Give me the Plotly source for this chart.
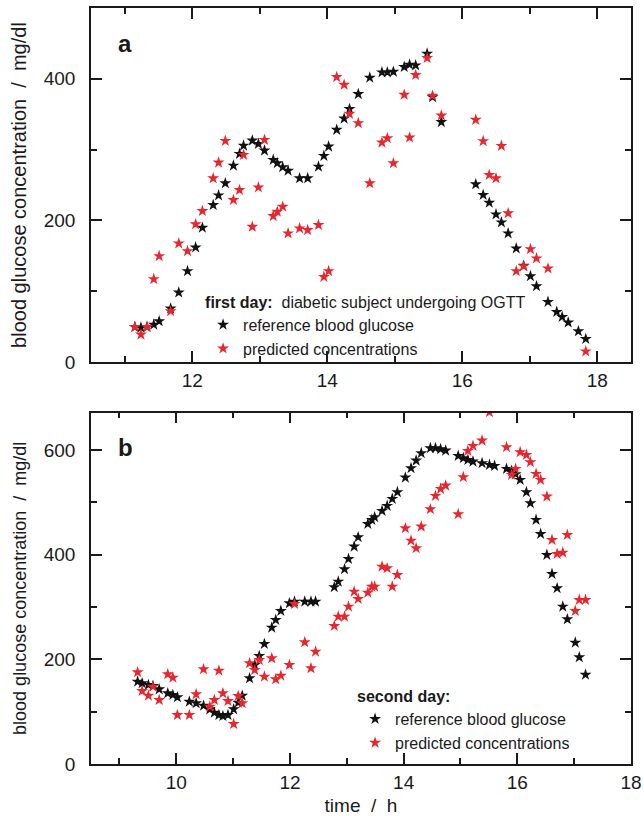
import plotly.graph_objects as go

# ---------------- data ----------------
# first day: diabetic subject undergoing OGTT (time in h, glucose in mg/dl)
day1_time = [11.15, 11.24, 11.33, 11.43, 11.51, 11.68, 11.80, 11.93, 12.05, 12.15,
             12.31, 12.39, 12.49, 12.61, 12.70, 12.76, 12.89, 12.98, 13.07, 13.20,
             13.26, 13.34, 13.42, 13.59, 13.71, 13.87, 13.95, 14.02, 14.14, 14.25,
             14.33, 14.46, 14.63, 14.81, 14.89, 14.98, 15.14, 15.22, 15.31, 15.48,
             15.56, 15.69, 16.20, 16.31, 16.40, 16.50, 16.58, 16.68, 16.80, 16.91,
             17.01, 17.10, 17.27, 17.40, 17.48, 17.57, 17.72, 17.83]
day1_reference = [49.5, 48.7, 49.5, 52.9, 57.6, 75.6, 98.2, 128.4, 161.9, 189.7,
                  221.8, 235.4, 252.5, 277.4, 294.0, 305.7, 312.8, 308.1, 298.7, 285.5,
                  280.8, 275.2, 270.3, 259.6, 259.6, 276.0, 291.2, 304.3, 328.0, 343.9,
                  357.3, 378.5, 401.6, 409.1, 409.1, 410.0, 416.7, 420.0, 419.0, 435.5,
                  374.2, 338.9, 251.1, 236.0, 225.1, 208.6, 197.3, 181.7, 160.5, 135.9,
                  121.3, 107.1, 84.9, 70.8, 63.7, 55.8, 43.5, 32.6]
day1_predicted = [49.5, 38.8, 49.5, 117.1, 149.6, 71.8, 167.6, 156.7, 194.5, 213.3,
                  259.6, 281.7, 312.4, 228.9, 243.0, 292.6, 191.1, 246.6, 313.8, 206.2,
                  212.3, 219.4, 181.7, 188.8, 186.4, 193.5, 120.3, 128.4, 402.5, 391.6,
                  350.6, 337.4, 252.5, 310.0, 316.2, 280.8, 377.5, 317.1, 405.4, 429.4,
                  376.1, 348.2, 342.1, 312.0, 264.3, 259.6, 305.3, 210.1, 128.4, 135.5,
                  159.5, 146.4, 132.2, None, None, None, None, 15.1]

# second day
day2_time = [9.32, 9.40, 9.51, 9.59, 9.70, 9.85, 9.94, 10.02, 10.23, 10.35,
             10.48, 10.59, 10.67, 10.75, 10.82, 10.91, 11.01, 11.09, 11.16, 11.29,
             11.38, 11.46, 11.55, 11.68, 11.75, 11.84, 11.99, 12.08, 12.26, 12.37,
             12.45, 12.78, 12.85, 12.96, 13.03, 13.13, 13.20, 13.37, 13.44, 13.49,
             13.62, 13.71, 13.80, 13.89, 14.03, 14.13, 14.22, 14.31, 14.47, 14.56,
             14.65, 14.74, 14.96, 15.05, 15.13, 15.22, 15.38, 15.51, 15.60, 15.81,
             15.90, 15.97, 16.05, 16.16, 16.23, 16.33, 16.41, 16.52, 16.61, 16.70,
             16.80, 16.88, 17.02, 17.09, 17.20]
day2_reference = [157.3, 154.2, 151.0, 149.1, 142.7, 135.1, 131.9, 127.5, 119.1, 116.0,
                  111.4, 104.5, 98.0, 93.6, 91.7, 93.6, 104.5, 117.1, 130.5, 163.8,
                  189.2, 206.4, 229.3, 260.5, 275.2, 292.4, 307.1, 310.1, 310.1, 310.1,
                  310.1, 337.7, 348.4, 372.1, 391.7, 415.3, 433.2, 458.6, 466.3, 471.4,
                  483.5, 493.0, 506.4, 519.2, 547.1, 565.1, 579.6, 593.7, 603.3, 603.3,
                  601.4, 598.7, 588.6, 584.2, 580.9, 577.7, 574.6, 571.4, 569.5, 563.7,
                  559.9, 553.6, 542.7, 519.2, 498.2, 466.3, 439.5, 399.4, 363.1, 335.8,
                  300.6, 276.5, 231.8, 203.9, 170.6]
day2_predicted = [175.2, 139.5, 130.5, 147.7, 122.3, 171.4, 164.9, 93.6, 93.6, 133.2,
                  181.0, 109.5, 122.3, 178.3, 135.1, 120.4, 76.4, 129.9, 116.0, 192.4,
                  179.6, 198.7, 166.8, 202.0, 161.9, 168.7, 189.2, 305.7, 232.6, 182.9,
                  214.6, 263.7, 281.5, 281.5, 300.6, 329.3, 315.3, 327.3, 338.8, 338.8,
                  377.0, 374.0, 338.8, 361.2, 450.4, 426.7, 412.2, 453.5, 486.7, 512.1,
                  525.5, 531.8, 477.2, 547.9, 598.1, 607.7, 617.8, 672.0, None, 605.2,
                  552.3, 563.7, 595.6, 590.5, 576.5, 554.2, 542.7, 510.8, 428.0, 401.3,
                  403.8, 437.6, 292.4, 313.4, 313.4]

series_names = ["reference blood glucose", "predicted concentrations"]
legend_titles = ["<b>first day:</b>\u00a0\u00a0diabetic subject undergoing OGTT",
                 "<b>second day:</b>"]
panel_letters = ["a", "b"]
y_title = "blood glucose concentration\u00a0\u00a0/\u00a0\u00a0mg/dl"
x_title = "time\u00a0\u00a0/\u00a0\u00a0h"

# ---------------- style ----------------
FONT = "Liberation Sans, Arial, sans-serif"
INK = "#1a1a1a"
BLACK = "#111111"
RED = "#e8262d"
STAR = 9

fig = go.Figure()

def add_pair(t, ref, pred, xa, ya, leg):
    fig.add_trace(go.Scatter(x=t, y=ref, mode="markers", name=series_names[0],
                             xaxis=xa, yaxis=ya, legend=leg,
                             marker=dict(symbol="star", size=STAR, color=BLACK,
                                         line=dict(width=0))))
    fig.add_trace(go.Scatter(x=t, y=pred, mode="markers", name=series_names[1],
                             xaxis=xa, yaxis=ya, legend=leg,
                             marker=dict(symbol="star", size=STAR, color=RED,
                                         line=dict(width=0))))

add_pair(day1_time, day1_reference, day1_predicted, "x", "y", "legend")
add_pair(day2_time, day2_reference, day2_predicted, "x2", "y2", "legend2")

def axis(**kw):
    base = dict(showline=True, linecolor=INK, linewidth=1.6, mirror="allticks",
                ticks="inside", ticklen=11, tickwidth=1.6, tickcolor=INK,
                showgrid=False, zeroline=False, automargin=False,
                tickfont=dict(family=FONT, size=19, color=INK),
                minor=dict(ticks="inside", ticklen=6, tickwidth=1.6,
                           tickcolor=INK, showgrid=False))
    base.update(kw)
    return base

legend_common = dict(xanchor="left", yanchor="top", bgcolor="rgba(0,0,0,0)",
                     font=dict(family=FONT, size=16, color=INK),
                     tracegroupgap=0, itemwidth=30)

fig.update_layout(
    template="none",
    width=644, height=816,
    margin=dict(l=91, r=13, t=8, b=52),
    paper_bgcolor="white", plot_bgcolor="white",
    showlegend=True,
    xaxis=axis(domain=[0, 1], anchor="y", range=[10.5, 18.5], dtick=2, tick0=0,
               minor_dtick=1, minor_tick0=0),
    yaxis=axis(domain=[0.5317, 1], anchor="x", range=[0, 500], dtick=200, tick0=0,
               minor_dtick=100, minor_tick0=0, ticklabelstandoff=10,
               title=dict(text=y_title, font=dict(family=FONT, size=20, color=INK),
                          standoff=12)),
    xaxis2=axis(domain=[0, 1], anchor="y2", range=[8.5, 18], dtick=2, tick0=0,
                minor_dtick=1, minor_tick0=0,
                title=dict(text=x_title, font=dict(family=FONT, size=19, color=INK),
                           standoff=17)),
    yaxis2=axis(domain=[0, 0.4647], anchor="x2", range=[0, 671], dtick=200, tick0=0,
                minor_dtick=100, minor_tick0=0, ticklabelstandoff=10,
                title=dict(text=y_title, font=dict(family=FONT, size=18, color=INK),
                           standoff=12)),
    legend=dict(x=0.2075, y=0.631, title=dict(text=legend_titles[0],
                font=dict(family=FONT, size=16, color=INK)), **legend_common),
    legend2=dict(x=0.489, y=0.1095, title=dict(text=legend_titles[1],
                 font=dict(family=FONT, size=16, color=INK)), **legend_common),
)

for letter, xr, yr in [(panel_letters[0], "x domain", "y domain"),
                       (panel_letters[1], "x2 domain", "y2 domain")]:
    fig.add_annotation(text=f"<b>{letter}</b>", xref=xr, yref=yr,
                       x=0.046, y=0.90, xanchor="left", yanchor="middle",
                       showarrow=False, font=dict(family=FONT, size=24, color=INK))

fig.write_html("out.html")
